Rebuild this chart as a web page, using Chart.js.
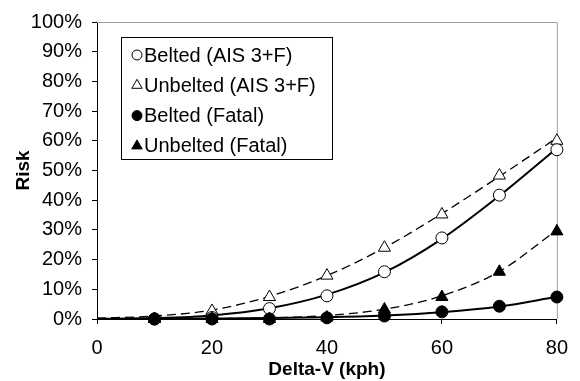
<!DOCTYPE html>
<html>
<head>
<meta charset="utf-8">
<script src="https://cdn.jsdelivr.net/npm/chart.js@4"></script>
<style>
  html, body { margin: 0; padding: 0; background: #fff; }
  #wrap { width: 580px; height: 381px; }
</style>
</head>
<body>
<div id="wrap"><canvas id="riskChart" width="580" height="381"></canvas></div>
<script>
// points mesures (vitesses en kph, risque en %)
const speeds = [10, 20, 30, 40, 50, 60, 70, 80];
const beltedAis = [0, 0.5, 3.5, 7.8, 15.9, 27.3, 41.7, 57];
const unbeltedAis = [0, 2.7, 7.4, 14.6, 24, 35.2, 48.3, 60];
const beltedFatal = [0, 0, 0, 0.4, 1, 2.4, 4.3, 7.4];
const unbeltedFatal = [0, 0, 0, 0.5, 3.2, 7.4, 15.9, 29.5];

// courbes ajustees
const curveSpeeds = [0, 10, 20, 30, 40, 50, 60, 70, 80];
const beltedAisCurve = [0.05, 0.3, 1.2, 3.6, 8.2, 15.7, 27, 41.5, 57.5];
const unbeltedAisCurve = [0.3, 1, 3, 7.6, 14.6, 24, 35.5, 48, 61];
const beltedFatalCurve = [0, 0.05, 0.15, 0.3, 0.6, 1.2, 2.3, 4.2, 7.5];
const unbeltedFatalCurve = [0, 0.02, 0.1, 0.4, 1.2, 3.3, 7.8, 16, 30];

const legendLabels = ["Belted (AIS 3+F)", "Unbelted (AIS 3+F)", "Belted (Fatal)", "Unbelted (Fatal)"];
const yTicks = [0, 10, 20, 30, 40, 50, 60, 70, 80, 90, 100];

const FONT = "'Liberation Sans', Arial, sans-serif";

const toPts = (xs, ys) => xs.map((x, i) => ({ x: x, y: ys[i] }));

function markerSet(label, values, style, filled, radius) {
    return {
        label: label,
        data: toPts(speeds, values),
        showLine: false,
        pointStyle: style,
        pointRadius: radius,
        pointBackgroundColor: filled ? "#000" : "#fff",
        pointBorderColor: "#000",
        pointBorderWidth: 1,
        clip: false,
        order: filled ? 0 : 1
        // les marqueurs pleins passent devant
    };
}

function curveSet(values, dashed, width) {
    return {
        label: "",
        data: toPts(curveSpeeds, values),
        showLine: true,
        pointRadius: 0,
        borderColor: "#000",
        borderWidth: width,
        borderDash: dashed ? [9, 5] : [],
        cubicInterpolationMode: "monotone",
        clip: false,
        order: 2
    };
}

// cadre gris en haut et a droite
const frame = {
    id: "frame",
    beforeDatasetsDraw(chart) {
        const a = chart.chartArea;
        const ctx = chart.ctx;
        ctx.save();
        ctx.strokeStyle = "#a0a0a0";
        ctx.lineWidth = 1;
        ctx.beginPath();
        ctx.moveTo(a.left, a.top + 0.5);
        ctx.lineTo(a.right + 0.5, a.top + 0.5);
        ctx.lineTo(a.right + 0.5, a.bottom);
        ctx.stroke();
        ctx.restore();
    }
};

// legende dans la zone du graphique
const boxLegend = {
    id: "boxLegend",
    afterDatasetsDraw(chart) {
        const ctx = chart.ctx;
        const x0 = 121.5, y0 = 37.5, w = 211, h = 122;
        ctx.save();
        ctx.fillStyle = "#fff";
        ctx.fillRect(x0, y0, w, h);
        ctx.strokeStyle = "#000";
        ctx.lineWidth = 1;
        ctx.strokeRect(x0, y0, w, h);
        ctx.font = "20px " + FONT;
        ctx.textBaseline = "middle";
        ctx.textAlign = "left";
        for (let i = 0; i < 4; i++) {
            const ds = chart.data.datasets[i];
            const y = 55 + i * 30.3;
            ctx.fillStyle = ds.pointBackgroundColor;
            ctx.strokeStyle = "#000";
            ctx.lineWidth = 1;
            Chart.helpers.drawPoint(ctx, {
                pointStyle: ds.pointStyle,
                radius: ds.pointStyle === "triangle" ? 6 : 5,
                borderWidth: 1,
                rotation: 0
            }, 137, y);
            ctx.fillStyle = "#000";
            ctx.fillText(ds.label, 144, y + 1);
        }
        ctx.restore();
    }
};

new Chart(document.getElementById("riskChart"), {
    type: "scatter",
    data: {
        datasets: [
            markerSet(legendLabels[0], beltedAis, "circle", false, 6),
            markerSet(legendLabels[1], unbeltedAis, "triangle", false, 7),
            markerSet(legendLabels[2], beltedFatal, "circle", true, 6),
            markerSet(legendLabels[3], unbeltedFatal, "triangle", true, 7),
            curveSet(beltedAisCurve, false, 2),
            curveSet(unbeltedAisCurve, true, 1.3),
            curveSet(beltedFatalCurve, false, 2),
            curveSet(unbeltedFatalCurve, true, 1.3)
        ]
    },
    options: {
        responsive: false,
        animation: false,
        devicePixelRatio: 1,
        layout: { padding: { top: 17, right: 19, left: 0, bottom: 0 } },
        plugins: {
            legend: { display: false },
            tooltip: { enabled: false }
        },
        scales: {
            x: {
                type: "linear",
                min: 0,
                max: 80,
                afterFit: s => { s.height = 62; },
                ticks: {
                    stepSize: 20,
                    color: "#000",
                    padding: 12,
                    font: { family: FONT, size: 20 }
                },
                grid: { drawOnChartArea: false, tickLength: 5, color: "#000" },
                border: { color: "#000", width: 1 },
                title: {
                    display: true,
                    text: "Delta-V (kph)",
                    color: "#000",
                    padding: { top: 0, bottom: 0 },
                    font: { family: FONT, size: 19, weight: "bold" }
                }
            },
            y: {
                min: 0,
                max: 100,
                afterFit: s => { s.width = 97; },
                afterBuildTicks: s => { s.ticks = yTicks.map(v => ({ value: v })); },
                ticks: {
                    color: "#000",
                    padding: 10,
                    font: { family: FONT, size: 20 },
                    callback: v => v + "%"
                },
                grid: { drawOnChartArea: false, tickLength: 5, color: "#000" },
                border: { color: "#000", width: 1 },
                title: {
                    display: true,
                    text: "Risk",
                    color: "#000",
                    padding: { top: 12, bottom: 0 },
                    font: { family: FONT, size: 19, weight: "bold" }
                }
            }
        }
    },
    plugins: [frame, boxLegend]
});
</script>
</body>
</html>
